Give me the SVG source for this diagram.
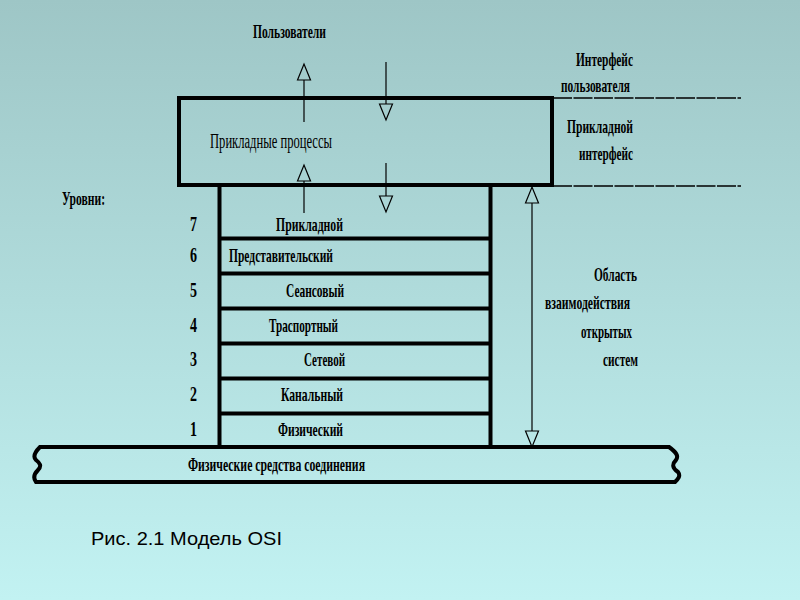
<svg xmlns="http://www.w3.org/2000/svg" width="800" height="600" viewBox="0 0 800 600">
<defs>
<linearGradient id="bg" x1="0" y1="0" x2="0" y2="1">
<stop offset="0" stop-color="#9ec6c6"/>
<stop offset="1" stop-color="#c2f2f2"/>
</linearGradient>
<marker id="ah" markerUnits="userSpaceOnUse" markerWidth="20" markerHeight="18" refX="1" refY="8" orient="auto-start-reverse" viewBox="0 0 20 18">
<path d="M1,1.5 L17,8 L1,14.5 Z" fill="none" stroke="#000" stroke-width="1.2"/>
</marker>
<style>
.t{font-family:"Liberation Serif","DejaVu Serif",serif;font-weight:bold;font-size:19px;fill:#000}
.n{font-family:"Liberation Serif","DejaVu Serif",serif;font-weight:bold;font-size:20px;fill:#000}
.thin{font-family:"Liberation Serif","DejaVu Serif",serif;font-size:20px;fill:#000}
.box{fill:none;stroke:#000;stroke-width:4}
.ln{stroke:#000;stroke-width:4;fill:none}
.dash{stroke:#000;stroke-width:1.3;stroke-dasharray:19 1.5;fill:none}
.c{stroke:#000;stroke-width:1.2;fill:none;marker-end:url(#ah)}
</style>
</defs>
<rect width="800" height="600" fill="url(#bg)"/>

<g id="users"><text class="t" x="253" y="38" textLength="73" lengthAdjust="spacingAndGlyphs">Пользователи</text></g>

<g id="app-processes">
<rect class="box" x="179" y="98" width="373" height="87"/>
<text class="thin" x="210" y="148" textLength="122" lengthAdjust="spacingAndGlyphs">Прикладные процессы</text>
</g>

<g id="interfaces">
<text class="t" x="633" y="66" text-anchor="end" textLength="57" lengthAdjust="spacingAndGlyphs">Интерфейс</text>
<text class="t" x="630" y="92" text-anchor="end" textLength="69" lengthAdjust="spacingAndGlyphs">пользователя</text>
<line class="dash" x1="553" y1="98" x2="741" y2="98"/>
<text class="t" x="633" y="133" text-anchor="end" textLength="66" lengthAdjust="spacingAndGlyphs">Прикладной</text>
<text class="t" x="633" y="160" text-anchor="end" textLength="54" lengthAdjust="spacingAndGlyphs">интерфейс</text>
<line class="dash" x1="553" y1="186" x2="741" y2="186"/>
</g>

<g id="levels-label"><text class="t" x="62" y="205" textLength="43" lengthAdjust="spacingAndGlyphs">Уровни:</text></g>

<g id="stack">
<line class="ln" x1="219.5" y1="185" x2="219.5" y2="447"/>
<line class="ln" x1="490.5" y1="185" x2="490.5" y2="447"/>
<line class="ln" x1="219" y1="238.5" x2="491" y2="238.5"/>
<line class="ln" x1="219" y1="273.5" x2="491" y2="273.5"/>
<line class="ln" x1="219" y1="308.5" x2="491" y2="308.5"/>
<line class="ln" x1="219" y1="343.5" x2="491" y2="343.5"/>
<line class="ln" x1="219" y1="378.5" x2="491" y2="378.5"/>
<line class="ln" x1="219" y1="413.5" x2="491" y2="413.5"/>
</g>

<g id="layer7"><text class="n" x="190" y="231" textLength="7" lengthAdjust="spacingAndGlyphs">7</text><text class="t" x="276" y="231" textLength="67" lengthAdjust="spacingAndGlyphs">Прикладной</text></g>
<g id="layer6"><text class="n" x="190" y="262" textLength="7" lengthAdjust="spacingAndGlyphs">6</text><text class="t" x="229" y="262" textLength="104" lengthAdjust="spacingAndGlyphs">Представительский</text></g>
<g id="layer5"><text class="n" x="190" y="297" textLength="7" lengthAdjust="spacingAndGlyphs">5</text><text class="t" x="286" y="297" textLength="58" lengthAdjust="spacingAndGlyphs">Сеансовый</text></g>
<g id="layer4"><text class="n" x="190" y="332" textLength="7" lengthAdjust="spacingAndGlyphs">4</text><text class="t" x="269" y="332" textLength="69" lengthAdjust="spacingAndGlyphs">Траспортный</text></g>
<g id="layer3"><text class="n" x="190" y="366" textLength="7" lengthAdjust="spacingAndGlyphs">3</text><text class="t" x="304" y="366" textLength="41" lengthAdjust="spacingAndGlyphs">Сетевой</text></g>
<g id="layer2"><text class="n" x="190" y="401" textLength="7" lengthAdjust="spacingAndGlyphs">2</text><text class="t" x="281" y="401" textLength="62" lengthAdjust="spacingAndGlyphs">Канальный</text></g>
<g id="layer1"><text class="n" x="190" y="436" textLength="7" lengthAdjust="spacingAndGlyphs">1</text><text class="t" x="278" y="436" textLength="65" lengthAdjust="spacingAndGlyphs">Физический</text></g>

<g id="osi-area">
<text class="t" x="637" y="281" text-anchor="end" textLength="43" lengthAdjust="spacingAndGlyphs">Область</text>
<text class="t" x="630" y="309" text-anchor="end" textLength="85" lengthAdjust="spacingAndGlyphs">взаимодействия</text>
<text class="t" x="632" y="338" text-anchor="end" textLength="51" lengthAdjust="spacingAndGlyphs">открытых</text>
<text class="t" x="638" y="366" text-anchor="end" textLength="35" lengthAdjust="spacingAndGlyphs">систем</text>
</g>

<g id="physical-media">
<path class="ln" d="M40,447 L669,447 C676,452 679,456 676,460 C672,464 672,468 678,472 C681,476 678,479 675,482 L36,482 C33,478 34,474 38,470 C42,466 40,463 36,460 C32,456 36,451 40,447 Z"/>
<text class="t" x="188" y="471" textLength="177" lengthAdjust="spacingAndGlyphs">Физические средства соединения</text>
</g>

<g id="connectors">
<line class="c" x1="304" y1="122" x2="304" y2="80"/>
<line class="c" x1="386" y1="62" x2="386" y2="104"/>
<line class="c" x1="304" y1="213" x2="304" y2="181"/>
<line class="c" x1="386" y1="163" x2="386" y2="196"/>
<line class="c" x1="532" y1="203" x2="532" y2="431" style="marker-start:url(#ah)"/>
</g>

<g id="caption"><text x="91" y="545" font-family="Liberation Sans, Arial, sans-serif" font-size="19" textLength="191" lengthAdjust="spacingAndGlyphs" fill="#000">Рис. 2.1 Модель OSI</text></g>
</svg>
